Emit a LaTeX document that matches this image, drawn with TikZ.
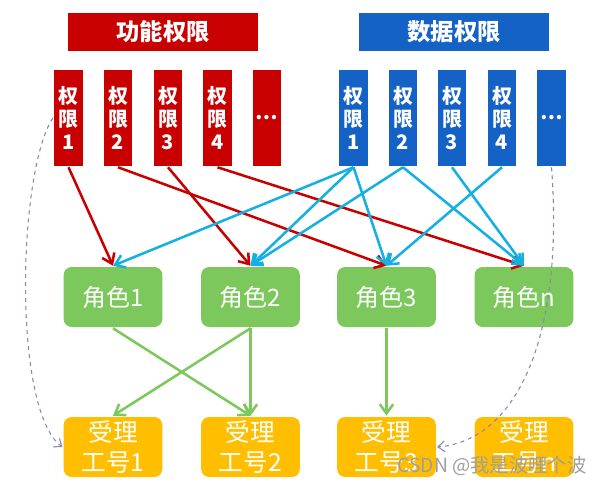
\documentclass[tikz,border=0pt]{standalone}
\usepackage{fontspec}
\setmainfont{Noto Sans CJK SC}
\usetikzlibrary{arrows.meta}
\definecolor{cred}{HTML}{C80000}
\definecolor{cblue}{HTML}{1462C6}
\definecolor{ccyan}{HTML}{14B0E2}
\definecolor{cgreen}{HTML}{7DC85C}
\definecolor{corange}{HTML}{FFBE00}
\definecolor{cdash}{HTML}{8A86B2}
\tikzset{
  every picture/.style={x=0.75pt, y=-0.75pt, line width=1.9pt},
  titlebox/.style={fill=#1, text=white, font=\bfseries\fontsize{17.5}{20}\selectfont, minimum width=142.5pt, minimum height=28.5pt, inner sep=0pt},
  permbox/.style={fill=#1, text=white, font=\bfseries\fontsize{15}{17.5}\selectfont, align=center, minimum width=21.5pt, minimum height=72pt, inner sep=0pt},
  rolebox/.style={fill=#1, text=white, rounded corners=6pt, align=center, minimum width=74pt, minimum height=45pt, inner sep=0pt},
  link/.style={-{Straight Barb[length=7pt, width=10pt]}, draw=#1},
}

\begin{document}
\begin{tikzpicture}[
  role/.style={rolebox=cgreen, font=\fontsize{18}{20}\selectfont},
  job/.style={rolebox=corange, font=\fontsize{18.5}{22}\selectfont},
  back/.style={-{Straight Barb[length=5pt, width=8pt]}, draw=cdash, line width=0.8pt, dashed}]
  \useasboundingbox (0,0) rectangle (604,486);
  % titles
  \node[titlebox=cred] (ftitle) at (163,32) {功能权限};
  \node[titlebox=cblue] (dtitle) at (454,32) {数据权限};
  % permission columns
  \foreach \i/\x/\t in {1/68.5/1, 2/118/2, 3/168/3, 4/217.5/4}
    \node[permbox=cred] (fp\i) at (\x,118) {权\\限\\\t};
  \node[permbox=cred] (fp5) at (267,118) {…};
  \foreach \i/\x/\t in {1/353.5/1, 2/403/2, 3/452/3, 4/502/4}
    \node[permbox=cblue] (dp\i) at (\x,118) {权\\限\\\t};
  \node[permbox=cblue] (dp5) at (551.5,118) {…};
  % roles and jobs
  \foreach \i/\x/\t in {1/113/1, 2/250.5/2, 3/386.5/3, 4/524/n} {
    \node[role] (role\i) at (\x,297) {角色\t};
    \node[job] (job\i) at (\x,447) {受理\\工号\t};
  }
  % links
  \foreach \a/\b in {fp1/role1, fp2/role3, fp3/role2, fp4/role4}
    \draw[link=cred] (\a.south) -- (\b.north);
  \foreach \a/\b in {dp1/role1, dp1/role2, dp1/role3, dp2/role2, dp2/role4, dp3/role4, dp4/role3}
    \draw[link=ccyan] (\a.south) -- (\b.north);
  \foreach \a/\b in {role1/job2, role2/job1, role2/job2, role3/job3}
    \draw[link=cgreen] (\a.south) -- (\b.north);
  \draw[back] (fp1.west) .. controls (18,170) and (12,410) .. (job1.west);
  \draw[back] (dp5.south) .. controls (564,330) and (520,440) .. (job3.east);
  \node[text=gray!75, font=\fontsize{14.5}{17}\selectfont] (mark) at (492,466) {CSDN @我是波哩个波};
\end{tikzpicture}
\end{document}
